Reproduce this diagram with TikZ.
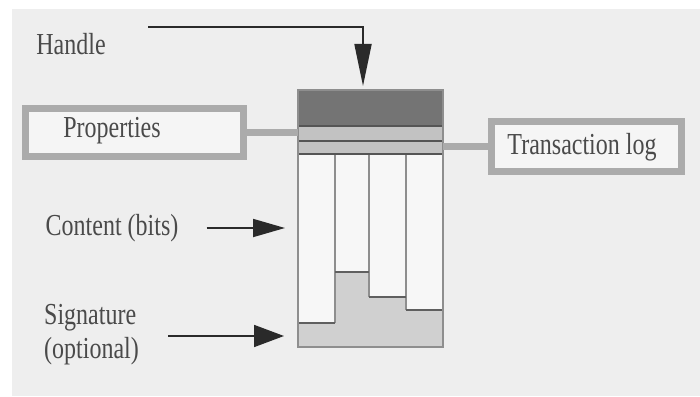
\documentclass[tikz,border=0pt]{standalone}
\usepackage{fontspec}
\setmainfont{Liberation Serif}
\usetikzlibrary{arrows.meta}
\definecolor{bgc}{HTML}{EEEEEE}
\definecolor{boxline}{HTML}{ABABAB}
\definecolor{darkband}{HTML}{747474}
\definecolor{lightband}{HTML}{C2C2C2}
\definecolor{lowfill}{HTML}{D0D0D0}
\definecolor{ink}{HTML}{2A2A2A}
\definecolor{colline}{HTML}{8E8E8E}
\newcommand\lbl[1]{\scalebox{0.96}[1.22]{#1}}
\tikzset{
  lab/.style={inner sep=0pt, font=\fontsize{25}{28}\selectfont, text=ink!85},
  grbox/.style={draw=boxline, line width=7pt, fill=bgc!60!white, inner sep=0pt},
  conn/.style={draw=boxline, line width=7pt},
  arr/.style={draw=ink, line width=1.8pt},
}
\begin{document}
\begin{tikzpicture}[x=1pt,y=-1pt]
\useasboundingbox (0,0) rectangle (700,396);
\fill[white] (0,0) rectangle (700,396);
\fill[bgc] (12,9) rectangle (700,396);

% main object box
\node[minimum width=145pt, minimum height=257pt, inner sep=0pt, outer sep=0pt] (obj) at (370.5,218.5) {};
\fill[darkband] (298,90) rectangle (443,126);
\fill[lightband] (298,126) rectangle (443,154);
% columns: white parts and grey staircase below
\fill[white!97!black] (298,154) rectangle (443,347);
\fill[lowfill] (298,347) -- (298,323) -- (335,323) -- (335,272) -- (369,272) -- (369,297) -- (406,297) -- (406,310) -- (443,310) -- (443,347) -- cycle;
\draw[colline, line width=1.5pt] (335,154) -- (335,323) (369,154) -- (369,297) (406,154) -- (406,310);
\draw[ink!80, line width=1.6pt] (298,126) -- (443,126) (298,141) -- (443,141) (298,154) -- (443,154);
\draw[ink!75, line width=1.5pt] (298,323) -- (335,323) (335,272) -- (369,272) (369,297) -- (406,297) (406,310) -- (443,310);
\draw[colline, line width=1.5pt] (obj.south west) rectangle (obj.north east);

% labels
\node[lab] (handle) at (71,44) {\lbl{Handle}};
\node[grbox, minimum width=218pt, minimum height=48pt] (props) at (134.5,132.5) {};
\node[lab] at (112,131) {\lbl{Properties}};
\node[grbox, minimum width=190pt, minimum height=50pt] (tlog) at (586.5,146.5) {};
\node[lab] at (582,147) {\lbl{Transaction log}};
\node[lab] (content) at (112,228) {\lbl{Content (bits)}};
\node[lab, anchor=west] (sig) at (44,335) {\lbl{\renewcommand\arraystretch{0.98}\begin{tabular}{@{}l@{}}Signature\\(optional)\end{tabular}}};

% connectors
\draw[conn] (props.east) -- (props.east -| obj.west);
\draw[conn] (tlog.west) -- (tlog.west -| obj.east);
\coordinate (hs) at (148,27);
\draw[arr, -{Triangle[length=42pt,width=17pt]}, shorten >=4pt] (hs) -| (obj.north -| 363,0);
\draw[arr, -{Triangle[length=32pt,width=18pt]}, shorten <=28pt, shorten >=13pt] (content.east) -- (content.east -| obj.west);
\coordinate (ss) at (168,336);
\draw[arr, -{Triangle[length=30pt,width=22pt]}, shorten >=14pt] (ss) -- (ss -| obj.west);
\end{tikzpicture}
\end{document}
